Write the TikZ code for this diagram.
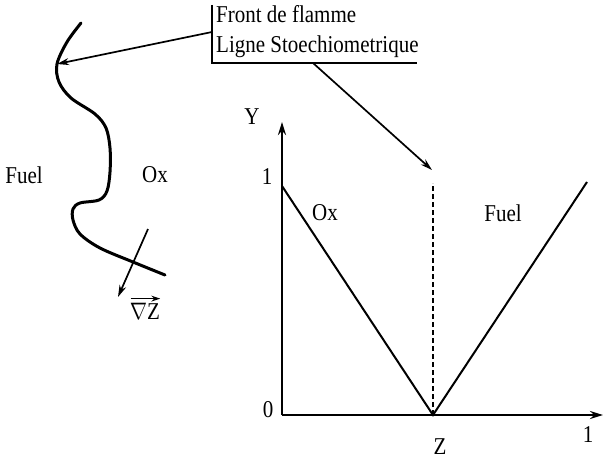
\documentclass[tikz,border=0pt]{standalone}
\usepackage{fontspec}
\setmainfont{Liberation Serif}
\usetikzlibrary{arrows.meta}
\tikzset{
  lbl/.style={font=\fontsize{21}{25}\selectfont, inner sep=0pt, yscale=1.15},
  ptr/.style={-{Stealth[length=12pt, width=7pt]}, line width=1.7pt},
  axis/.style={-{Stealth[length=13pt, width=8pt]}, line width=2.4pt},
  front/.style={line width=3pt, line cap=round},
  thin/.style={line width=2pt},
}

\begin{document}
\begin{tikzpicture}[x=1pt, y=-1pt]
\useasboundingbox (0,0) rectangle (603,460);

% Legend with its bracket
\node[lbl, anchor=base west] (flamme) at (216,23) {Front de flamme};
\node[lbl, anchor=base west] (stoech) at (216,53) {Ligne Stoechiometrique};
\coordinate (bartop) at (212,5);
\coordinate (barbot) at (212,63);
\coordinate (barend) at (417,63);
\draw[thin] (bartop) -- (barbot) -- (barend);
\coordinate (fromflamme) at (212,32);
\coordinate (fromstoech) at (313,63);

% Flame front in physical space
\draw[front] plot[smooth, tension=0.55] coordinates {
  (81,23) (67,42) (57,64) (59,82) (71,98) (95,114) (106,128) (110,148)
  (110,172) (107,191) (99,200) (80,203) (73,209) (73,220) (80,234)
  (100,248) (133,262) (165,275)};
\coordinate (tip) at (57,64);
\node[lbl] (fuelL) at (24,175) {Fuel};
\node[lbl] (oxL) at (155,175) {Ox};

% Gradient of Z
\coordinate (gradfrom) at (148,229);
\coordinate (gradto) at (118,297);
\draw[ptr] (gradfrom) -- (gradto);
\node[lbl] (grad) at (145,311) {$\nabla$Z};
\draw[-{Stealth[length=9pt, width=6pt]}, line width=1.7pt]
  ([xshift=1pt, yshift=4pt]grad.north west) -- ([yshift=4pt]grad.north east);

% Mixture fraction space
\coordinate (O) at (282,415);
\coordinate (ytop) at (282,122);
\coordinate (xend) at (603,415);
\coordinate (zst) at (433,415);
\coordinate (yone) at (282,186);
\coordinate (fuelend) at (587,182);
\coordinate (dashtop) at (433,183);
\draw[axis] (O) -- (ytop);
\draw[axis] (O) -- (xend);
\draw[thin] (yone) -- (zst) -- (fuelend);
\draw[thin, dashed, dash pattern=on 5pt off 3pt] (zst) -- (dashtop);

\node[lbl] (ylab) at (252,117) {Y};
\node[lbl] (one) at (267,177) {1};
\node[lbl] (zero) at (268,410) {0};
\node[lbl] (zlab) at (440,447) {Z};
\node[lbl] (xone) at (588,435) {1};
\node[lbl] (oxR) at (325,213) {Ox};
\node[lbl] (fuelR) at (503,213) {Fuel};

% Pointers from the legend
\draw[ptr] (fromflamme) -- (tip);
\draw[ptr] (fromstoech) -- (432,170);

\end{tikzpicture}
\end{document}
